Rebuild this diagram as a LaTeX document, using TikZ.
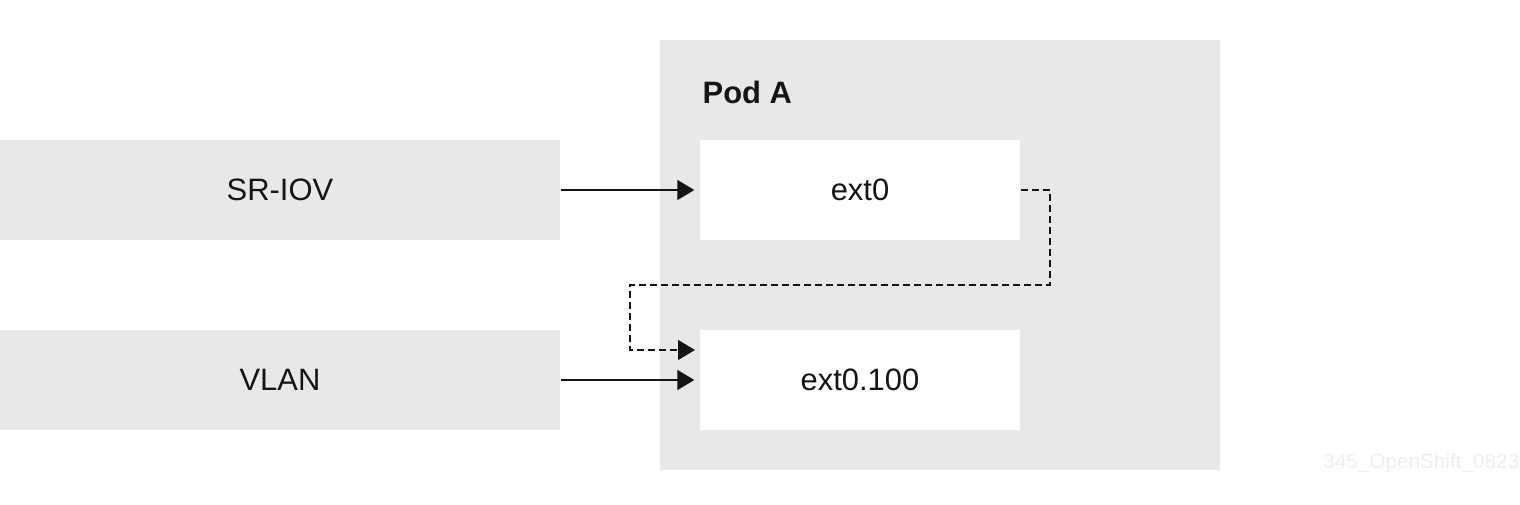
\documentclass[tikz,border=0pt]{standalone}
\usepackage{fontspec}
\setmainfont{Liberation Sans}
\usepackage{tikz}
\usetikzlibrary{arrows.meta}
\definecolor{boxgray}{HTML}{E8E8E8}
\definecolor{ink}{HTML}{151515}
\definecolor{markgray}{HTML}{EEEEEE}

\begin{document}
\begin{tikzpicture}[
  netbox/.style={fill=boxgray,minimum width=5.6cm,minimum height=1cm,inner sep=0pt,font=\fontsize{8.8}{10}\selectfont,text=ink},
  ifbox/.style={fill=white,minimum width=3.2cm,minimum height=1cm,inner sep=0pt,font=\fontsize{8.8}{10}\selectfont,text=ink},
  link/.style={draw=ink,line width=0.5pt,-{Triangle[length=0.17cm,width=0.2cm]},shorten >=0.05cm}
]
\useasboundingbox (0,0) rectangle (15.2,-5.05);
\begin{scope}[shift={(0,0)}]
\node[fill=boxgray,minimum width=5.6cm,minimum height=4.3cm,inner sep=0pt] (pod) at (9.4,-2.55) {};
\node[anchor=west,inner sep=0pt,font=\fontsize{8.8}{10}\selectfont\bfseries,text=ink] (podlabel) at (7.02,-0.92) {Pod A};
\node[netbox] (sriov) at (2.8,-1.9) {SR-IOV};
\node[netbox] (vlan) at (2.8,-3.8) {VLAN};
\node[ifbox] (ext0) at (8.6,-1.9) {ext0};
\node[ifbox] (ext100) at (8.6,-3.8) {ext0.100};
\end{scope}
\begin{scope}[shift={(0,0)}]
\coordinate (c1) at (10.5,-2.85);
\coordinate (c2) at (6.3,-2.85);
\coordinate (c3) at (7,-3.5);
\draw[link] (sriov) -- (ext0);
\draw[link] (vlan) -- (ext100);
\draw[link,dash pattern=on 0.07cm off 0.04cm,line width=0.45pt] (ext0.east) -| (c1) -- (c2) |- (c3);
\end{scope}
\node[anchor=east,inner sep=0pt,font=\fontsize{5.9}{7}\selectfont,text=markgray] (mark) at (15.2,-4.63) {345\_OpenShift\_0823};
\end{tikzpicture}
\end{document}
